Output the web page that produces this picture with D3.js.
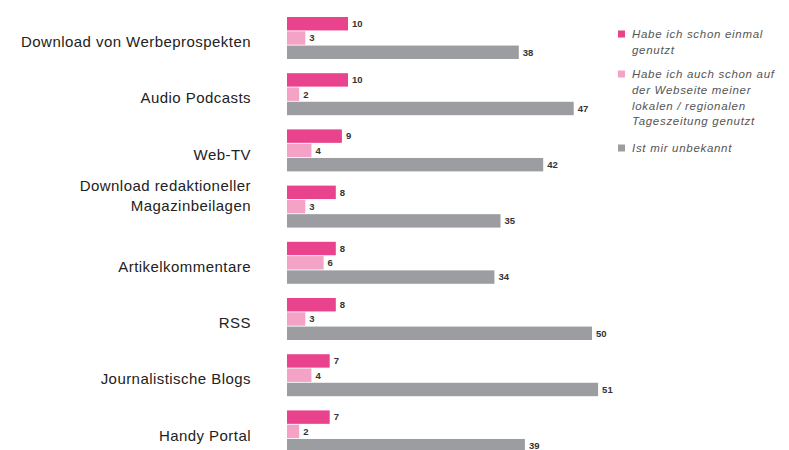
<!DOCTYPE html>
<html><head><meta charset="utf-8">
<script src="https://cdn.jsdelivr.net/npm/d3@7"></script>
<style>body{margin:0;background:#fff}svg{display:block}</style>
</head><body>
<svg id="c" width="789" height="450"></svg>
<script>
const categories = [
  ["Download von Werbeprospekten"],
  ["Audio Podcasts"],
  ["Web-TV"],
  ["Download redaktioneller", "Magazinbeilagen"],
  ["Artikelkommentare"],
  ["RSS"],
  ["Journalistische Blogs"],
  ["Handy Portal"]
];
const seriesNames = ["genutzt", "lokal", "unbekannt"];
const genutzt   = [10, 10, 9, 8, 8, 8, 7, 7];
const lokal     = [3, 2, 4, 3, 6, 3, 4, 2];
const unbekannt = [38, 47, 42, 35, 34, 50, 51, 39];
const legendLabels = [
  ["Habe ich schon einmal", "genutzt"],
  ["Habe ich auch schon auf", "der Webseite meiner", "lokalen / regionalen", "Tageszeitung genutzt"],
  ["Ist mir unbekannt"]
];
const colors = ["#e8438c", "#f4a3c6", "#9c9da1"];
const seriesValues = [genutzt, lokal, unbekannt];

const svg = d3.select("#c");
const keys = categories.map((c, i) => i);

const y0 = d3.scaleBand().domain(keys).range([17, 452.4]).paddingInner(0.253).paddingOuter(0);
const y1 = d3.scaleBand().domain(seriesNames).range([0, y0.bandwidth()]).paddingInner(0.06);
const x = d3.scaleLinear().domain([0, 50]).range([287, 592]);

const groups = svg.selectAll("g.grp").data(keys).enter().append("g")
  .attr("class", "grp").attr("transform", d => `translate(0,${y0(d)})`);

seriesNames.forEach((s, si) => {
  groups.append("rect")
    .attr("x", x(0))
    .attr("y", y1(s))
    .attr("width", d => x(seriesValues[si][d]) - x(0))
    .attr("height", y1.bandwidth())
    .attr("fill", colors[si]);
  groups.append("text")
    .attr("x", d => x(seriesValues[si][d]) + 4)
    .attr("y", y1(s) + y1.bandwidth() / 2)
    .attr("dy", "0.35em")
    .attr("font-family", "Liberation Sans, Arial, sans-serif")
    .attr("font-size", 9.5)
    .attr("font-weight", "bold")
    .attr("fill", "#333")
    .text(d => seriesValues[si][d]);
});

// category labels
groups.each(function(d) {
  const lines = categories[d];
  const t = d3.select(this).append("text")
    .attr("text-anchor", "end")
    .attr("font-family", "Liberation Sans, Arial, sans-serif")
    .attr("font-size", 15)
    .attr("letter-spacing", "0.45px")
    .attr("fill", "#222");
  lines.forEach((ln, i) => {
    const yy = lines.length > 1 ? i * 20 : y0.bandwidth() / 2 + 4;
    t.append("tspan").attr("x", 251)
      .attr("y", yy)
      .attr("dy", "0.35em").text(ln);
  });
});

// legend
const legTops = [34, 74, 148];
legendLabels.forEach((lines, i) => {
  svg.append("rect").attr("x", 618).attr("y", legTops[i] - 3.5).attr("width", 7).attr("height", 7).attr("fill", colors[i]);
  const t = svg.append("text")
    .attr("font-family", "Liberation Sans, Arial, sans-serif")
    .attr("font-size", 11.5)
    .attr("font-style", "italic")
    .attr("letter-spacing", "0.7px")
    .attr("fill", "#555");
  lines.forEach((ln, j) => {
    t.append("tspan").attr("x", 632).attr("y", legTops[i] + j * 15.8).attr("dy", "0.35em").text(ln);
  });
});
</script>
</body></html>
